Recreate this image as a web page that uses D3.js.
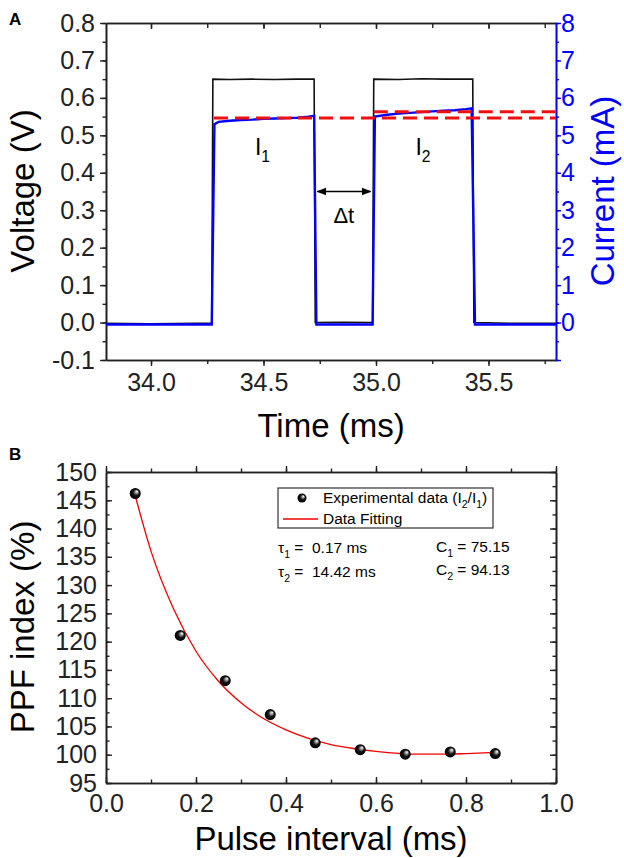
<!DOCTYPE html>
<html>
<head>
<meta charset="utf-8">
<script src="https://cdn.jsdelivr.net/npm/d3@7"></script>
<style>
  body { margin: 0; background: #fff; }
  svg { display: block; font-family: "Liberation Sans", Arial, sans-serif; }
</style>
</head>
<body>
<div id="chart"></div>
<script>
// ---- panel A : voltage trace (V) vs time (ms)
var voltT = [33.8, 34.0, 34.2, 34.27, 34.275, 34.35, 34.45, 34.55, 34.65, 34.725, 34.73, 34.85, 34.985, 34.99, 35.1, 35.2, 35.3, 35.43, 35.435, 35.6, 35.8];
var voltV = [-0.002, -0.003, -0.002, -0.002, 0.65, 0.649, 0.65, 0.649, 0.65, 0.65, 0.0, 0.001, 0.0, 0.65, 0.649, 0.651, 0.65, 0.65, 0.0, -0.002, -0.002];

// ---- panel A : current trace (mA) vs time (ms)
var currT = [33.8, 34.27, 34.282, 34.3, 34.35, 34.4, 34.45, 34.5, 34.55, 34.6, 34.65, 34.7, 34.725, 34.735, 34.985, 34.995, 35.05, 35.1, 35.15, 35.2, 35.25, 35.3, 35.35, 35.4, 35.425, 35.44, 35.8];
var currI = [-0.05, -0.05, 5.3, 5.36, 5.39, 5.41, 5.42, 5.44, 5.45, 5.46, 5.47, 5.5, 5.52, -0.05, -0.05, 5.5, 5.55, 5.58, 5.6, 5.62, 5.64, 5.66, 5.67, 5.7, 5.72, -0.05, -0.05];

// reference levels I1 / I2 (mA) and where they start (ms)
var refStart = [34.28, 34.99];
var refLevel = [5.46, 5.63];

// ---- panel B : PPF index
var interval = [0.065, 0.165, 0.265, 0.365, 0.465, 0.565, 0.665, 0.765, 0.865];
var ppf = [146.2, 121.1, 113.1, 107.1, 102.1, 100.9, 100.1, 100.5, 100.2];
var fitT = [0.065, 0.1, 0.15, 0.2, 0.25, 0.3, 0.35, 0.4, 0.45, 0.5, 0.55, 0.6, 0.65, 0.7, 0.75, 0.8, 0.865];
var fitY = [145.8, 136, 125.8, 118.3, 113, 109.2, 106.4, 104.4, 102.9, 101.8, 101.1, 100.6, 100.25, 100.1, 100.1, 100.2, 100.4];

// ticks
var timeTicks = [34.0, 34.5, 35.0, 35.5];
var voltTicks = [-0.1, 0, 0.1, 0.2, 0.3, 0.4, 0.5, 0.6, 0.7, 0.8];
var currTicks = [0, 1, 2, 3, 4, 5, 6, 7, 8];
var intTicks = [0, 0.2, 0.4, 0.6, 0.8, 1.0];
var ppfTicks = [95, 100, 105, 110, 115, 120, 125, 130, 135, 140, 145, 150];

var W = 624, H = 858;
var svg = d3.select('#chart').append('svg').attr('width', W).attr('height', H);

var defs = svg.append('defs');
var grad = defs.append('radialGradient').attr('id', 'ball')
  .attr('cx', 0.5).attr('cy', 0.5).attr('r', 0.5).attr('fx', 0.68).attr('fy', 0.3);
grad.append('stop').attr('offset', '0%').attr('stop-color', '#ffffff');
grad.append('stop').attr('offset', '22%').attr('stop-color', '#aaaaaa');
grad.append('stop').attr('offset', '55%').attr('stop-color', '#151515');
grad.append('stop').attr('offset', '100%').attr('stop-color', '#000000');

var axisCol = '#222';
var blue = '#0000ff';

function range(a, b, s) {
  var out = [];
  for (var v = a; v <= b + 1e-9; v += s) out.push(+v.toFixed(4));
  return out;
}

function drawAxis(orient, scale, pos, major, minor, majLen, minLen, pad, fmt, col) {
  var mk = {left: d3.axisLeft, right: d3.axisRight, top: d3.axisTop, bottom: d3.axisBottom}[orient];
  var t = (orient == 'left' || orient == 'right') ? 'translate(' + pos + ',0)' : 'translate(0,' + pos + ')';
  col = col || axisCol;
  var gMin = svg.append('g').attr('transform', t)
    .call(mk(scale).tickValues(minor).tickSize(minLen).tickSizeOuter(0).tickFormat(''));
  var gMaj = svg.append('g').attr('transform', t)
    .call(mk(scale).tickValues(major).tickSize(majLen).tickSizeOuter(0).tickPadding(pad).tickFormat(fmt || (function () { return ''; })));
  [gMin, gMaj].forEach(function (g) {
    g.select('.domain').attr('stroke', col).attr('stroke-width', 1.6);
    g.selectAll('.tick line').attr('stroke', col).attr('stroke-width', 1.4);
    g.selectAll('.tick text').attr('fill', col).attr('font-size', 25)
      .attr('font-family', '"Liberation Sans", Arial, sans-serif');
  });
  return gMaj;
}

function subText(x, y, parts, size, anchor, col) {
  var t = svg.append('text').attr('x', x).attr('y', y).attr('font-size', size)
    .attr('fill', col || '#000').attr('text-anchor', anchor || 'start');
  var shift = 0;
  parts.forEach(function (p) {
    var want = p[1] ? size * 0.3 : 0;
    t.append('tspan').attr('dy', want - shift).attr('font-size', p[1] ? size * 0.68 : size).text(p[0]);
    shift = want;
  });
  return t;
}

// ================= PANEL A =================
var xA = d3.scaleLinear().domain([33.8, 35.8]).range([106, 556]);
var yA = d3.scaleLinear().domain([-0.1, 0.8]).range([360, 23]);
var yI = d3.scaleLinear().domain([-1, 8]).range([360, 23]);

var fmt1 = function (d) { return d3.format('.1f')(d).replace('−', '-'); };
var timeMinor = range(33.75, 35.8, 0.25).filter(function (v) { return v >= 33.8; });

drawAxis('top', xA, 23, timeTicks, timeMinor, -6, -5, 3, null);
drawAxis('bottom', xA, 360, timeTicks, timeMinor, 6, 4, 7, fmt1);
drawAxis('left', yA, 106, voltTicks, range(-0.1, 0.8, 0.05), 6, 3.5, 5, fmt1);
drawAxis('right', yI, 556, range(-1, 8, 1), range(-1, 8, 0.5), 5, 3, 0, function (d) { return d < 0 ? '' : d3.format('d')(d); }, blue);

// traces
var lineV = d3.line().x(function (d, i) { return xA(voltT[i]); }).y(function (d) { return yA(d); });
svg.append('path').datum(voltV).attr('d', lineV)
  .attr('fill', 'none').attr('stroke', '#111').attr('stroke-width', 1.6);

var lineI = d3.line().x(function (d, i) { return xA(currT[i]); }).y(function (d) { return yI(d); });
svg.append('path').datum(currI).attr('d', lineI)
  .attr('fill', 'none').attr('stroke', blue).attr('stroke-width', 2.4);

// dashed reference levels
svg.selectAll('line.ref').data(refLevel).enter().append('line').attr('class', 'ref')
  .attr('x1', function (d, i) { return xA(refStart[i]); })
  .attr('x2', xA(35.8))
  .attr('y1', function (d) { return yI(d); })
  .attr('y2', function (d) { return yI(d); })
  .attr('stroke', '#f01010').attr('stroke-width', 3).attr('stroke-dasharray', '14,7');

// annotations
subText(xA(34.5) - 1, 155, [['I', 0], ['1', 1]], 23, 'middle');
subText(xA(35.2) + 2, 155, [['I', 0], ['2', 1]], 23, 'middle');

var arrY = yA(0.35);
defs.append('marker').attr('id', 'ah').attr('viewBox', '0 0 10 10').attr('refX', 9).attr('refY', 5)
  .attr('markerWidth', 7).attr('markerHeight', 7).attr('orient', 'auto-start-reverse')
  .append('path').attr('d', 'M0,1 L10,5 L0,9 Z').attr('fill', '#000');
svg.append('line').attr('x1', xA(34.74)).attr('x2', xA(34.975)).attr('y1', arrY).attr('y2', arrY)
  .attr('stroke', '#000').attr('stroke-width', 1.4)
  .attr('marker-start', 'url(#ah)').attr('marker-end', 'url(#ah)');
svg.append('text').attr('x', xA(34.857)).attr('y', 223).attr('text-anchor', 'middle')
  .attr('font-size', 22).text('Δt');

// titles
svg.append('text').attr('transform', 'translate(34,191) rotate(-90)').attr('text-anchor', 'middle')
  .attr('font-size', 33).text('Voltage (V)');
svg.append('text').attr('transform', 'translate(614,191) rotate(-90)').attr('text-anchor', 'middle')
  .attr('font-size', 33).attr('fill', blue).text('Current (mA)');
svg.append('text').attr('x', 331).attr('y', 437).attr('text-anchor', 'middle')
  .attr('font-size', 33).text('Time (ms)');
svg.append('text').attr('x', 9).attr('y', 25).attr('font-size', 17).attr('font-weight', 'bold').text('A');

// ================= PANEL B =================
var xB = d3.scaleLinear().domain([0, 1]).range([106, 556]);
var yB = d3.scaleLinear().domain([95, 150]).range([783, 472]);

drawAxis('top', xB, 472, intTicks, range(0, 1, 0.1), 6, 3.5, 3, null);
drawAxis('bottom', xB, 783, intTicks, range(0, 1, 0.1), -6, -3.5, 11, fmt1);
drawAxis('left', yB, 106, ppfTicks, range(95, 150, 2.5), -6, -3.5, 9, d3.format('d'));
drawAxis('right', yB, 556, ppfTicks, range(95, 150, 2.5), -6, -3.5, 3, null);

var lineF = d3.line().curve(d3.curveMonotoneX)
  .x(function (d, i) { return xB(fitT[i]); }).y(function (d) { return yB(d); });
svg.append('path').datum(fitY).attr('d', lineF)
  .attr('fill', 'none').attr('stroke', '#f00000').attr('stroke-width', 1.3);

svg.selectAll('circle.pt').data(ppf).enter().append('circle').attr('class', 'pt')
  .attr('cx', function (d, i) { return xB(interval[i]); })
  .attr('cy', function (d) { return yB(d); })
  .attr('r', 5.5).attr('fill', 'url(#ball)');

// legend
svg.append('rect').attr('x', 278).attr('y', 488).attr('width', 215).attr('height', 40)
  .attr('fill', '#fff').attr('stroke', '#333').attr('stroke-width', 1.2);
svg.append('circle').attr('cx', 302).attr('cy', 498).attr('r', 4.5).attr('fill', 'url(#ball)');
subText(323, 503, [['Experimental data (I', 0], ['2', 1], ['/I', 0], ['1', 1], [')', 0]], 15.5);
svg.append('line').attr('x1', 283).attr('x2', 318).attr('y1', 519).attr('y2', 519)
  .attr('stroke', '#f00000').attr('stroke-width', 1.4);
svg.append('text').attr('x', 323).attr('y', 524).attr('font-size', 15.5).text('Data Fitting');

subText(278, 553, [['τ', 0], ['1', 1], [' =\u00a0\u00a00.17 ms', 0]], 15.5);
subText(278, 577, [['τ', 0], ['2', 1], [' =\u00a0\u00a014.42 ms', 0]], 15.5);
subText(436, 552, [['C', 0], ['1', 1], [' = 75.15', 0]], 15.5);
subText(436, 575, [['C', 0], ['2', 1], [' = 94.13', 0]], 15.5);

svg.append('text').attr('transform', 'translate(34,627) rotate(-90)').attr('text-anchor', 'middle')
  .attr('font-size', 33).text('PPF index (%)');
svg.append('text').attr('x', 331).attr('y', 850).attr('text-anchor', 'middle')
  .attr('font-size', 33).text('Pulse interval (ms)');
svg.append('text').attr('x', 9).attr('y', 460).attr('font-size', 17).attr('font-weight', 'bold').text('B');
</script>
</body>
</html>
